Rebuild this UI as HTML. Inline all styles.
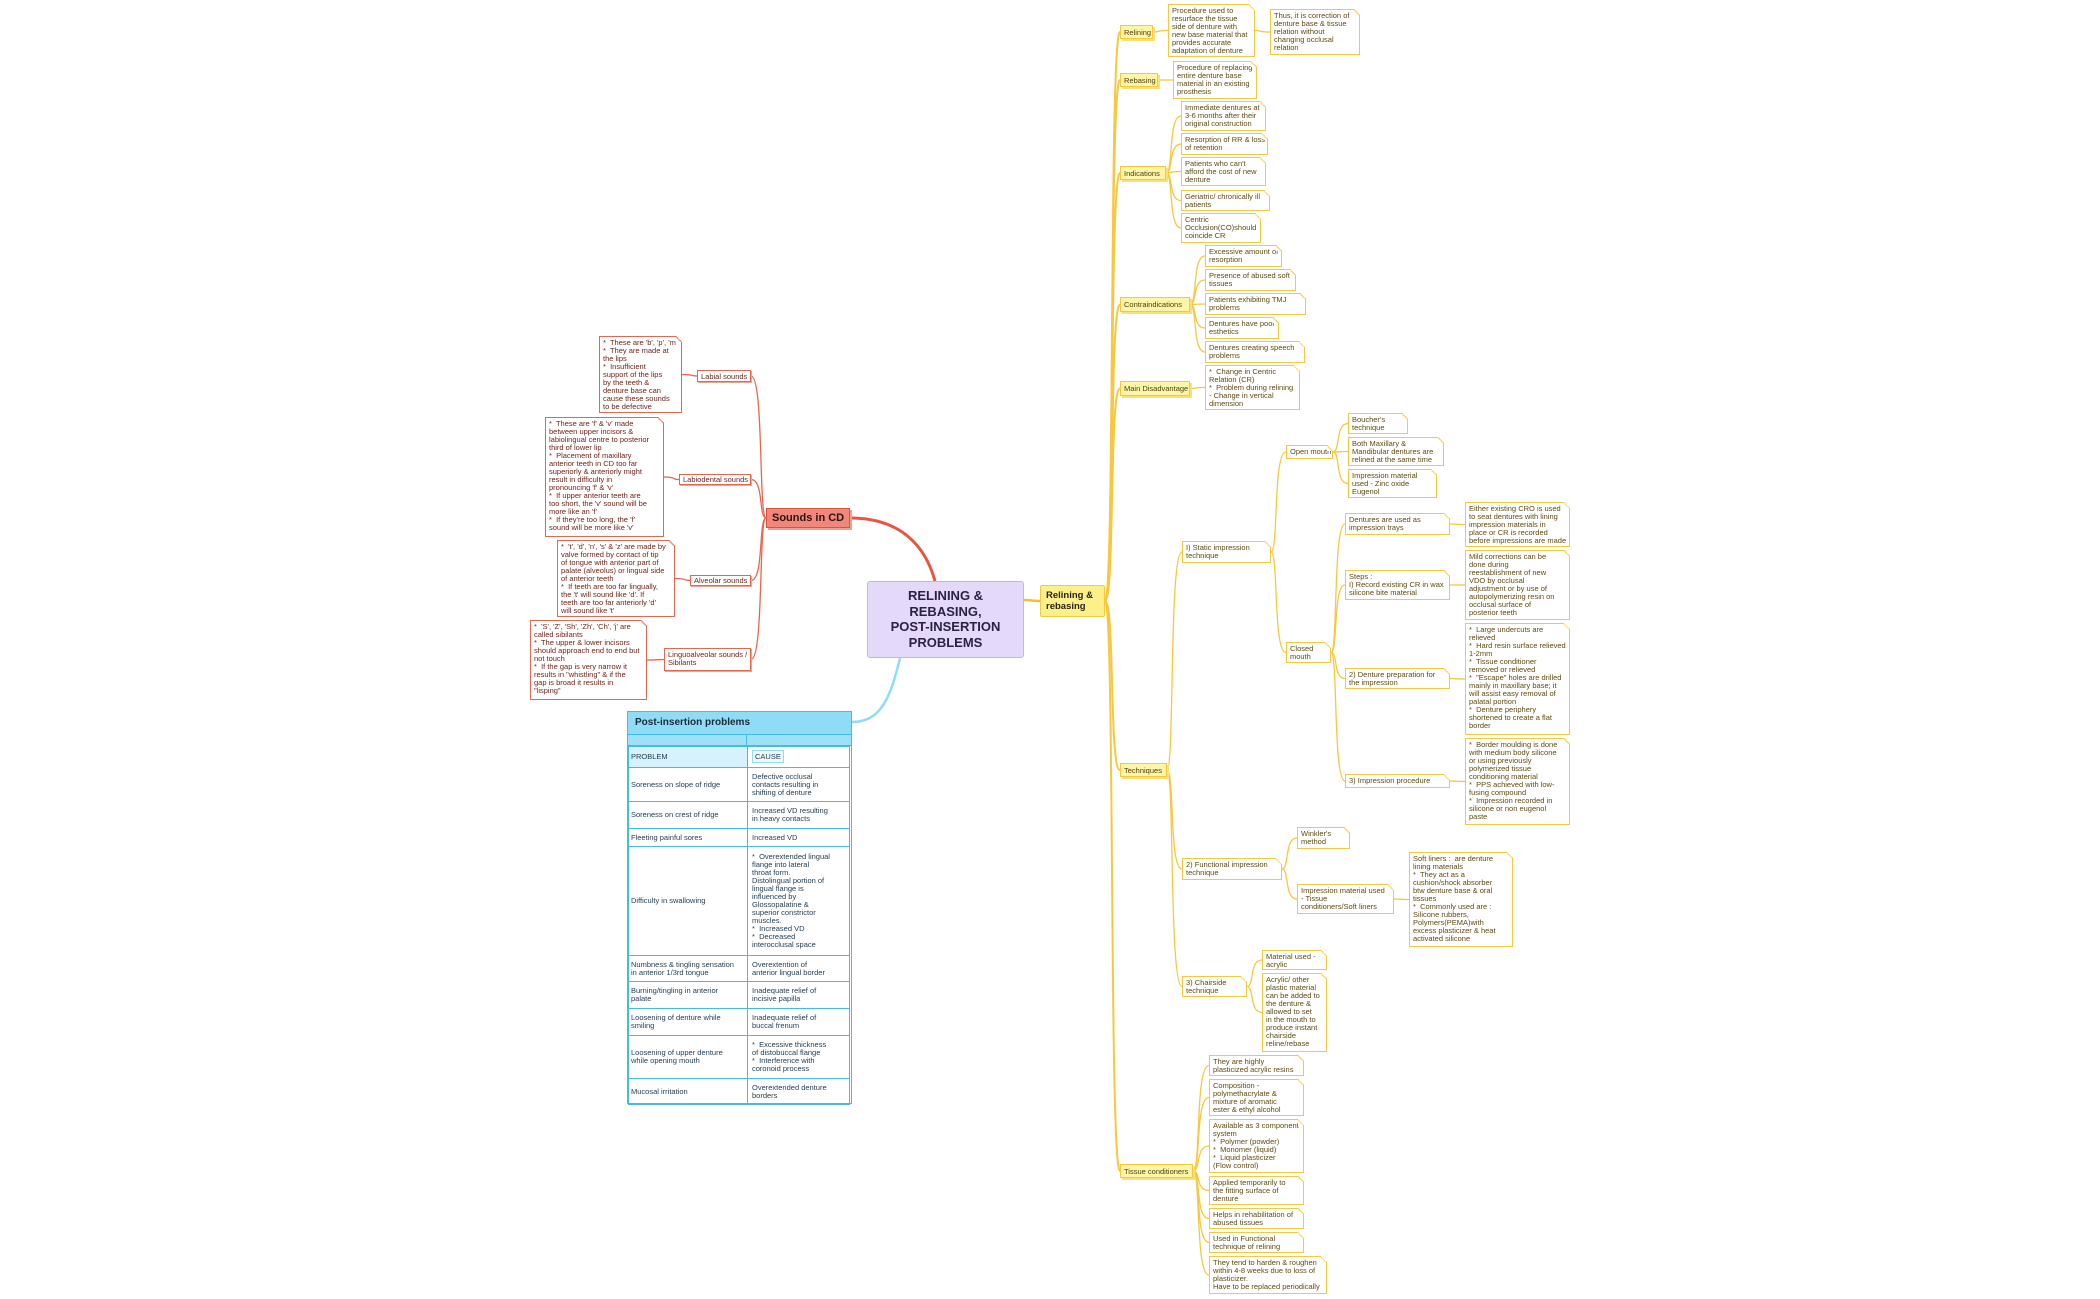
<!DOCTYPE html>
<html><head><meta charset="utf-8">
<style>
html,body{margin:0;padding:0;background:#fff;}
#c{position:relative;width:2100px;height:1299px;overflow:hidden;font-family:"Liberation Sans",sans-serif;}
.b{position:absolute;box-sizing:border-box;white-space:nowrap;font-size:7.5px;line-height:8px;}
.n{border:1.3px solid #f8c73e;background:#fff;color:#5e4a10;padding:2px 3px;}
.n::after{content:'';position:absolute;right:-1px;top:-1px;width:6px;height:6px;background:linear-gradient(to bottom left,#fff 50%,#f8c73e 50%,#fff 70%);}
.t{border:1.3px solid #f8c73e;background:#fdf5a8;color:#4e400c;padding:3px 3px;box-shadow:2px 2px 0 #fbe07a;}
.r{border:1.3px solid #e8654e;background:#fff;color:#6e2418;padding:2px 3px;}
.r::after{content:'';position:absolute;right:-1px;top:-1px;width:6px;height:6px;background:linear-gradient(to bottom left,#fff 50%,#e8654e 50%,#fff 70%);}
.rt{border:1.3px solid #e8654e;background:#fff;color:#6e2418;padding:2px 3px;box-shadow:1px 1px 0 #f2a090;}
svg{position:absolute;left:0;top:0;}
table{border-collapse:collapse;}
</style></head><body><div id="c">
<svg id="s" width="2100" height="1299"></svg>

<div class="b" style="left:867px;top:581px;width:157px;height:77px;background:#e4d8fb;border:1.5px solid #c7b2ef;border-radius:3px;color:#2a2340;font-size:13px;line-height:15.5px;font-weight:bold;text-align:center;padding-top:6px;">RELINING &amp;<br>REBASING,<br>POST-INSERTION<br>PROBLEMS</div>
<div class="b" style="left:1040px;top:585px;width:65px;height:32px;background:#fdf08a;border:1.5px solid #f5c93a;border-radius:2px;color:#2a2410;font-size:9.5px;line-height:11px;font-weight:bold;padding:4px 5px;">Relining &amp;<br>rebasing</div>

<div class="b t" id="relining" style="left:1120px;top:25px;width:33px;height:14px;">Relining</div>
<div class="b n" id="reln" style="left:1168px;top:4px;width:87px;height:53px;">Procedure used to<br>resurface the tissue<br>side of denture with<br>new base material that<br>provides accurate<br>adaptation of denture</div>
<div class="b n" id="thus" style="left:1270px;top:9px;width:90px;height:46px;">Thus, it is correction of<br>denture base &amp; tissue<br>relation without<br>changing occlusal<br>relation</div>
<div class="b t" id="rebasing" style="left:1120px;top:73px;width:38px;height:14px;">Rebasing</div>
<div class="b n" id="reb1" style="left:1173px;top:61px;width:84px;height:38px;">Procedure of replacing<br>entire denture base<br>material in an existing<br>prosthesis</div>
<div class="b t" id="ind" style="left:1120px;top:166px;width:46px;height:14px;">Indications</div>
<div class="b n" id="i1" style="left:1181px;top:101px;width:85px;height:30px;">Immediate dentures at<br>3-6 months after their<br>original construction</div>
<div class="b n" id="i2" style="left:1181px;top:133px;width:87px;height:22px;">Resorption of RR &amp; loss<br>of retention</div>
<div class="b n" id="i3" style="left:1181px;top:157px;width:85px;height:29px;">Patients who can't<br>afford the cost of new<br>denture</div>
<div class="b n" id="i4" style="left:1181px;top:190px;width:89px;height:21px;">Geriatric/ chronically ill<br>patients</div>
<div class="b n" id="i5" style="left:1181px;top:213px;width:80px;height:30px;">Centric<br>Occlusion(CO)should<br>coincide CR</div>
<div class="b t" id="contra" style="left:1120px;top:297px;width:70px;height:15px;">Contraindications</div>
<div class="b n" id="c1" style="left:1205px;top:245px;width:77px;height:22px;">Excessive amount of<br>resorption</div>
<div class="b n" id="c2" style="left:1205px;top:269px;width:91px;height:22px;">Presence of abused soft<br>tissues</div>
<div class="b n" id="c3" style="left:1205px;top:293px;width:101px;height:22px;">Patients exhibiting TMJ<br>problems</div>
<div class="b n" id="c4" style="left:1205px;top:317px;width:74px;height:22px;">Dentures have poor<br>esthetics</div>
<div class="b n" id="c5" style="left:1205px;top:341px;width:100px;height:22px;">Dentures creating speech<br>problems</div>
<div class="b t" id="maind" style="left:1120px;top:381px;width:70px;height:15px;">Main Disadvantage</div>
<div class="b n" id="md1" style="left:1205px;top:365px;width:95px;height:45px;">*&nbsp; Change in Centric<br>Relation (CR)<br>*&nbsp; Problem during relining<br>- Change in vertical<br>dimension</div>
<div class="b t" id="tech" style="left:1120px;top:763px;width:47px;height:14px;">Techniques</div>
<div class="b n" id="static" style="left:1182px;top:541px;width:89px;height:22px;">I) Static impression<br>technique</div>
<div class="b n" id="open" style="left:1286px;top:445px;width:47px;height:14px;">Open mouth</div>
<div class="b n" id="o1" style="left:1348px;top:413px;width:60px;height:21px;">Boucher's<br>technique</div>
<div class="b n" id="o2" style="left:1348px;top:437px;width:96px;height:29px;">Both Maxillary &amp;<br>Mandibular dentures are<br>relined at the same time</div>
<div class="b n" id="o3" style="left:1348px;top:469px;width:89px;height:29px;">Impression material<br>used - Zinc oxide<br>Eugenol</div>
<div class="b n" id="closed" style="left:1286px;top:642px;width:45px;height:21px;">Closed<br>mouth</div>
<div class="b n" id="cl1" style="left:1345px;top:513px;width:105px;height:22px;">Dentures are used as<br>impression trays</div>
<div class="b n" id="cl1n" style="left:1465px;top:502px;width:105px;height:45px;">Either existing CRO is used<br>to seat dentures with lining<br>impression materials in<br>place or CR is recorded<br>before impressions are made</div>
<div class="b n" id="cl2" style="left:1345px;top:570px;width:105px;height:30px;">Steps :<br>I) Record existing CR in wax<br>silicone bite material</div>
<div class="b n" id="cl2n" style="left:1465px;top:550px;width:105px;height:70px;">Mild corrections can be<br>done during<br>reestablishment of new<br>VDO by occlusal<br>adjustment or by use of<br>autopolymerizing resin on<br>occlusal surface of<br>posterior teeth</div>
<div class="b n" id="cl3" style="left:1345px;top:668px;width:105px;height:21px;">2) Denture preparation for<br>the impression</div>
<div class="b n" id="cl3n" style="left:1465px;top:623px;width:105px;height:112px;">*&nbsp; Large undercuts are<br>relieved<br>*&nbsp; Hard resin surface relieved<br>1-2mm<br>*&nbsp; Tissue conditioner<br>removed or relieved<br>*&nbsp; "Escape" holes are drilled<br>mainly in maxillary base; it<br>will assist easy removal of<br>palatal portion<br>*&nbsp; Denture periphery<br>shortened to create a flat<br>border</div>
<div class="b n" id="cl4" style="left:1345px;top:774px;width:105px;height:14px;">3) Impression procedure</div>
<div class="b n" id="cl4n" style="left:1465px;top:738px;width:105px;height:87px;">*&nbsp; Border moulding is done<br>with medium body silicone<br>or using previously<br>polymerized tissue<br>conditioning material<br>*&nbsp; PPS achieved with low-<br>fusing compound<br>*&nbsp; Impression recorded in<br>silicone or non eugenol<br>paste</div>
<div class="b n" id="func" style="left:1182px;top:858px;width:100px;height:22px;">2) Functional impression<br>technique</div>
<div class="b n" id="f1" style="left:1297px;top:827px;width:53px;height:22px;">Winkler's<br>method</div>
<div class="b n" id="f2" style="left:1297px;top:884px;width:97px;height:30px;">Impression material used<br>- Tissue<br>conditioners/Soft liners</div>
<div class="b n" id="f2n" style="left:1409px;top:852px;width:104px;height:95px;">Soft liners :&nbsp; are denture<br>lining materials<br>*&nbsp; They act as a<br>cushion/shock absorber<br>btw denture base &amp; oral<br>tissues<br>*&nbsp; Commonly used are :<br>Silicone rubbers,<br>Polymers(PEMA)with<br>excess plasticizer &amp; heat<br>activated silicone</div>
<div class="b n" id="chair" style="left:1182px;top:976px;width:65px;height:21px;">3) Chairside<br>technique</div>
<div class="b n" id="ch1" style="left:1262px;top:950px;width:65px;height:20px;">Material used -<br>acrylic</div>
<div class="b n" id="ch2" style="left:1262px;top:973px;width:65px;height:79px;">Acrylic/ other<br>plastic material<br>can be added to<br>the denture &amp;<br>allowed to set<br>in the mouth to<br>produce instant<br>chairside<br>reline/rebase</div>
<div class="b t" id="tc" style="left:1120px;top:1164px;width:73px;height:14px;">Tissue conditioners</div>
<div class="b n" id="t1" style="left:1209px;top:1055px;width:95px;height:21px;">They are highly<br>plasticized acrylic resins</div>
<div class="b n" id="t2" style="left:1209px;top:1079px;width:95px;height:37px;">Composition -<br>polymethacrylate &amp;<br>mixture of aromatic<br>ester &amp; ethyl alcohol</div>
<div class="b n" id="t3" style="left:1209px;top:1119px;width:95px;height:54px;">Available as 3 component<br>system<br>*&nbsp; Polymer (powder)<br>*&nbsp; Monomer (liquid)<br>*&nbsp; Liquid plasticizer<br>(Flow control)</div>
<div class="b n" id="t4" style="left:1209px;top:1176px;width:95px;height:29px;">Applied temporarily to<br>the fitting surface of<br>denture</div>
<div class="b n" id="t5" style="left:1209px;top:1208px;width:95px;height:21px;">Helps in rehabilitation of<br>abused tissues</div>
<div class="b n" id="t6" style="left:1209px;top:1232px;width:95px;height:21px;">Used in Functional<br>technique of relining</div>
<div class="b n" id="t7" style="left:1209px;top:1256px;width:118px;height:38px;">They tend to harden &amp; roughen<br>within 4-8 weeks due to loss of<br>plasticizer.<br>Have to be replaced periodically</div>

<div class="b" id="sounds" style="left:766px;top:508px;width:84px;height:20px;background:#f0877a;border:1.5px solid #d9543f;color:#2a1410;font-size:11px;line-height:14px;font-weight:bold;padding:2px 5px;box-shadow:2px 2px 0 #e8a294;">Sounds in CD</div>
<div class="b rt" id="lab" style="left:697px;top:370px;width:54px;height:12px;line-height:7px;">Labial sounds</div>
<div class="b r" id="labn" style="left:599px;top:336px;width:83px;height:77px;">*&nbsp; These are 'b', 'p', 'm'<br>*&nbsp; They are made at<br>the lips<br>*&nbsp; Insufficient<br>support of the lips<br>by the teeth &amp;<br>denture base can<br>cause these sounds<br>to be defective</div>
<div class="b rt" id="labd" style="left:679px;top:474px;width:72px;height:11px;line-height:6px;">Labiodental sounds</div>
<div class="b r" id="labdn" style="left:545px;top:417px;width:119px;height:120px;">*&nbsp; These are 'f' &amp; 'v' made<br>between upper incisors &amp;<br>labiolingual centre to posterior<br>third of lower lip<br>*&nbsp; Placement of maxillary<br>anterior teeth in CD too far<br>superiorly &amp; anteriorly might<br>result in difficulty in<br>pronouncing 'f' &amp; 'v'<br>*&nbsp; If upper anterior teeth are<br>too short, the 'v' sound will be<br>more like an 'f'<br>*&nbsp; If they're too long, the 'f'<br>sound will be more like 'v'</div>
<div class="b rt" id="alv" style="left:690px;top:575px;width:61px;height:11px;line-height:6px;">Alveolar sounds</div>
<div class="b r" id="alvn" style="left:557px;top:540px;width:118px;height:77px;">*&nbsp; 't', 'd', 'n', 's' &amp; 'z' are made by<br>valve formed by contact of tip<br>of tongue with anterior part of<br>palate (alveolus) or lingual side<br>of anterior teeth<br>*&nbsp; If teeth are too far lingually,<br>the 't' will sound like 'd'. If<br>teeth are too far anteriorly 'd'<br>will sound like 't'</div>
<div class="b rt" id="ling" style="left:664px;top:648px;width:87px;height:23px;">Linguoalveolar sounds /<br>Sibilants</div>
<div class="b r" id="lingn" style="left:530px;top:620px;width:117px;height:80px;">*&nbsp; 'S', 'Z', 'Sh', 'Zh', 'Ch', 'j' are<br>called sibilants<br>*&nbsp; The upper &amp; lower incisors<br>should approach end to end but<br>not touch<br>*&nbsp; If the gap is very narrow it<br>results in "whistling" &amp; if the<br>gap is broad it results in<br>"lisping"</div>

<div class="b" style="left:627px;top:711px;width:225px;height:393px;border:1.5px solid #3fbde6;background:#fff;color:#1f3a50;font-size:7.5px;line-height:8px;white-space:normal;">
<div style="height:22px;background:#8fdcf6;border-bottom:1px solid #3fbde6;font-size:10px;font-weight:bold;line-height:22px;padding-left:7px;color:#1a2a3a;">Post-insertion problems</div>
<div style="height:10px;background:#9fe0f6;border-bottom:1px solid #3fbde6;position:relative;"><div style="position:absolute;left:118px;top:0;width:1px;height:10px;background:#3fbde6"></div></div>
<table style="width:222px;">
<colgroup><col style="width:119px"><col></colgroup>
<tr style="height:21px"><td style="background:#d6f2fc;border:1px solid #3fbde6;padding:0 2px;">PROBLEM</td><td style="border:1px solid #3fbde6;padding:0 4px;"><span style="border:1px solid #8fdcf6;background:#eafaff;padding:1px 2px">CAUSE</span></td></tr>
<tr style="height:34px"><td style="border:1px solid #3fbde6;padding:0 2px;">Soreness on slope of ridge</td><td style="border:1px solid #3fbde6;padding:0 4px;white-space:nowrap">Defective occlusal<br>contacts resulting in<br>shifting of denture</td></tr>
<tr style="height:27px"><td style="border:1px solid #3fbde6;padding:0 2px;">Soreness on crest of ridge</td><td style="border:1px solid #3fbde6;padding:0 4px;white-space:nowrap">Increased VD resulting<br>in heavy contacts</td></tr>
<tr style="height:18px"><td style="border:1px solid #3fbde6;padding:0 2px;">Fleeting painful sores</td><td style="border:1px solid #3fbde6;padding:0 4px;">Increased VD</td></tr>
<tr style="height:109px"><td style="border:1px solid #3fbde6;padding:0 2px;">Difficulty in swallowing</td><td style="border:1px solid #3fbde6;padding:0 4px;white-space:nowrap">*&nbsp; Overextended lingual<br>flange into lateral<br>throat form.<br>Distolingual portion of<br>lingual flange is<br>influenced by<br>Glossopalatine &amp;<br>superior constrictor<br>muscles.<br>*&nbsp; Increased VD<br>*&nbsp; Decreased<br>interocclusal space</td></tr>
<tr style="height:26px"><td style="border:1px solid #3fbde6;padding:0 2px;white-space:nowrap">Numbness &amp; tingling sensation<br>in anterior 1/3rd tongue</td><td style="border:1px solid #3fbde6;padding:0 4px;white-space:nowrap">Overextention of<br>anterior lingual border</td></tr>
<tr style="height:27px"><td style="border:1px solid #3fbde6;padding:0 2px;white-space:nowrap">Burning/tingling in anterior<br>palate</td><td style="border:1px solid #3fbde6;padding:0 4px;white-space:nowrap">Inadequate relief of<br>incisive papilla</td></tr>
<tr style="height:27px"><td style="border:1px solid #3fbde6;padding:0 2px;white-space:nowrap">Loosening of denture while<br>smiling</td><td style="border:1px solid #3fbde6;padding:0 4px;white-space:nowrap">Inadequate relief of<br>buccal frenum</td></tr>
<tr style="height:43px"><td style="border:1px solid #3fbde6;padding:0 2px;white-space:nowrap">Loosening of upper denture<br>while opening mouth</td><td style="border:1px solid #3fbde6;padding:0 4px;white-space:nowrap">*&nbsp; Excessive thickness<br>of distobuccal flange<br>*&nbsp; Interference with<br>coronoid process</td></tr>
<tr style="height:26px"><td style="border:1px solid #3fbde6;padding:0 2px;">Mucosal irritation</td><td style="border:1px solid #3fbde6;padding:0 4px;white-space:nowrap">Overextended denture<br>borders</td></tr>
</table></div>

<script>
var s=document.getElementById('s'),NS='http://www.w3.org/2000/svg';
function g(id){var e=document.getElementById(id);return {l:e.offsetLeft,t:e.offsetTop,w:e.offsetWidth,h:e.offsetHeight};}
function p(d,c,w){var e=document.createElementNS(NS,'path');e.setAttribute('d',d);e.setAttribute('fill','none');e.setAttribute('stroke',c);e.setAttribute('stroke-width',w);s.appendChild(e);}
function R(a,b,c,w){var A=g(a),B=g(b);var x1=A.l+A.w,y1=A.t+A.h/2,x2=B.l,y2=B.t+B.h/2;var m=(x2-x1)*0.5;p('M'+x1+' '+y1+' C'+(x1+m)+' '+y1+' '+(x1+2)+' '+y2+' '+x2+' '+y2,c||'#f8c73e',w||1.3);}
function L(a,b,c,w){var A=g(a),B=g(b);var x1=A.l,y1=A.t+A.h/2,x2=B.l+B.w,y2=B.t+B.h/2;var m=(x1-x2)*0.5;p('M'+x1+' '+y1+' C'+(x1-m)+' '+y1+' '+(x1-2)+' '+y2+' '+x2+' '+y2,c||'#e8654e',w||1.3);}
p('M1024 600 C1032 600 1032 601 1040 601','#f5bf2e',2.5);
['relining','rebasing','ind','contra','maind','tech','tc'].forEach(function(id){var B=g(id);var x1=1105,y1=601,x2=B.l,y2=B.t+B.h/2;p('M'+x1+' '+y1+' C'+(x1+10)+' '+y1+' '+(x1+4)+' '+y2+' '+x2+' '+y2,'#f8c73e',2);});
R('relining','reln');R('reln','thus');R('rebasing','reb1');
['i1','i2','i3','i4','i5'].forEach(function(i){R('ind',i)});
['c1','c2','c3','c4','c5'].forEach(function(i){R('contra',i)});
R('maind','md1');
['static','func','chair'].forEach(function(i){R('tech',i)});
R('static','open');R('static','closed');
['o1','o2','o3'].forEach(function(i){R('open',i)});
['cl1','cl2','cl3','cl4'].forEach(function(i){R('closed',i)});
R('cl1','cl1n');R('cl2','cl2n');R('cl3','cl3n');R('cl4','cl4n');
R('func','f1');R('func','f2');R('f2','f2n');
R('chair','ch1');R('chair','ch2');
['t1','t2','t3','t4','t5','t6','t7'].forEach(function(i){R('tc',i)});
p('M935 581 C925 545 900 518 850 518','#e8573d',3);
p('M900 658 C890 700 880 722 852 722','#8fdcf6',2.5);
['lab','labd','alv','ling'].forEach(function(i){L('sounds',i)});
L('lab','labn');L('labd','labdn');L('alv','alvn');L('ling','lingn');
</script>
</div></body></html>
